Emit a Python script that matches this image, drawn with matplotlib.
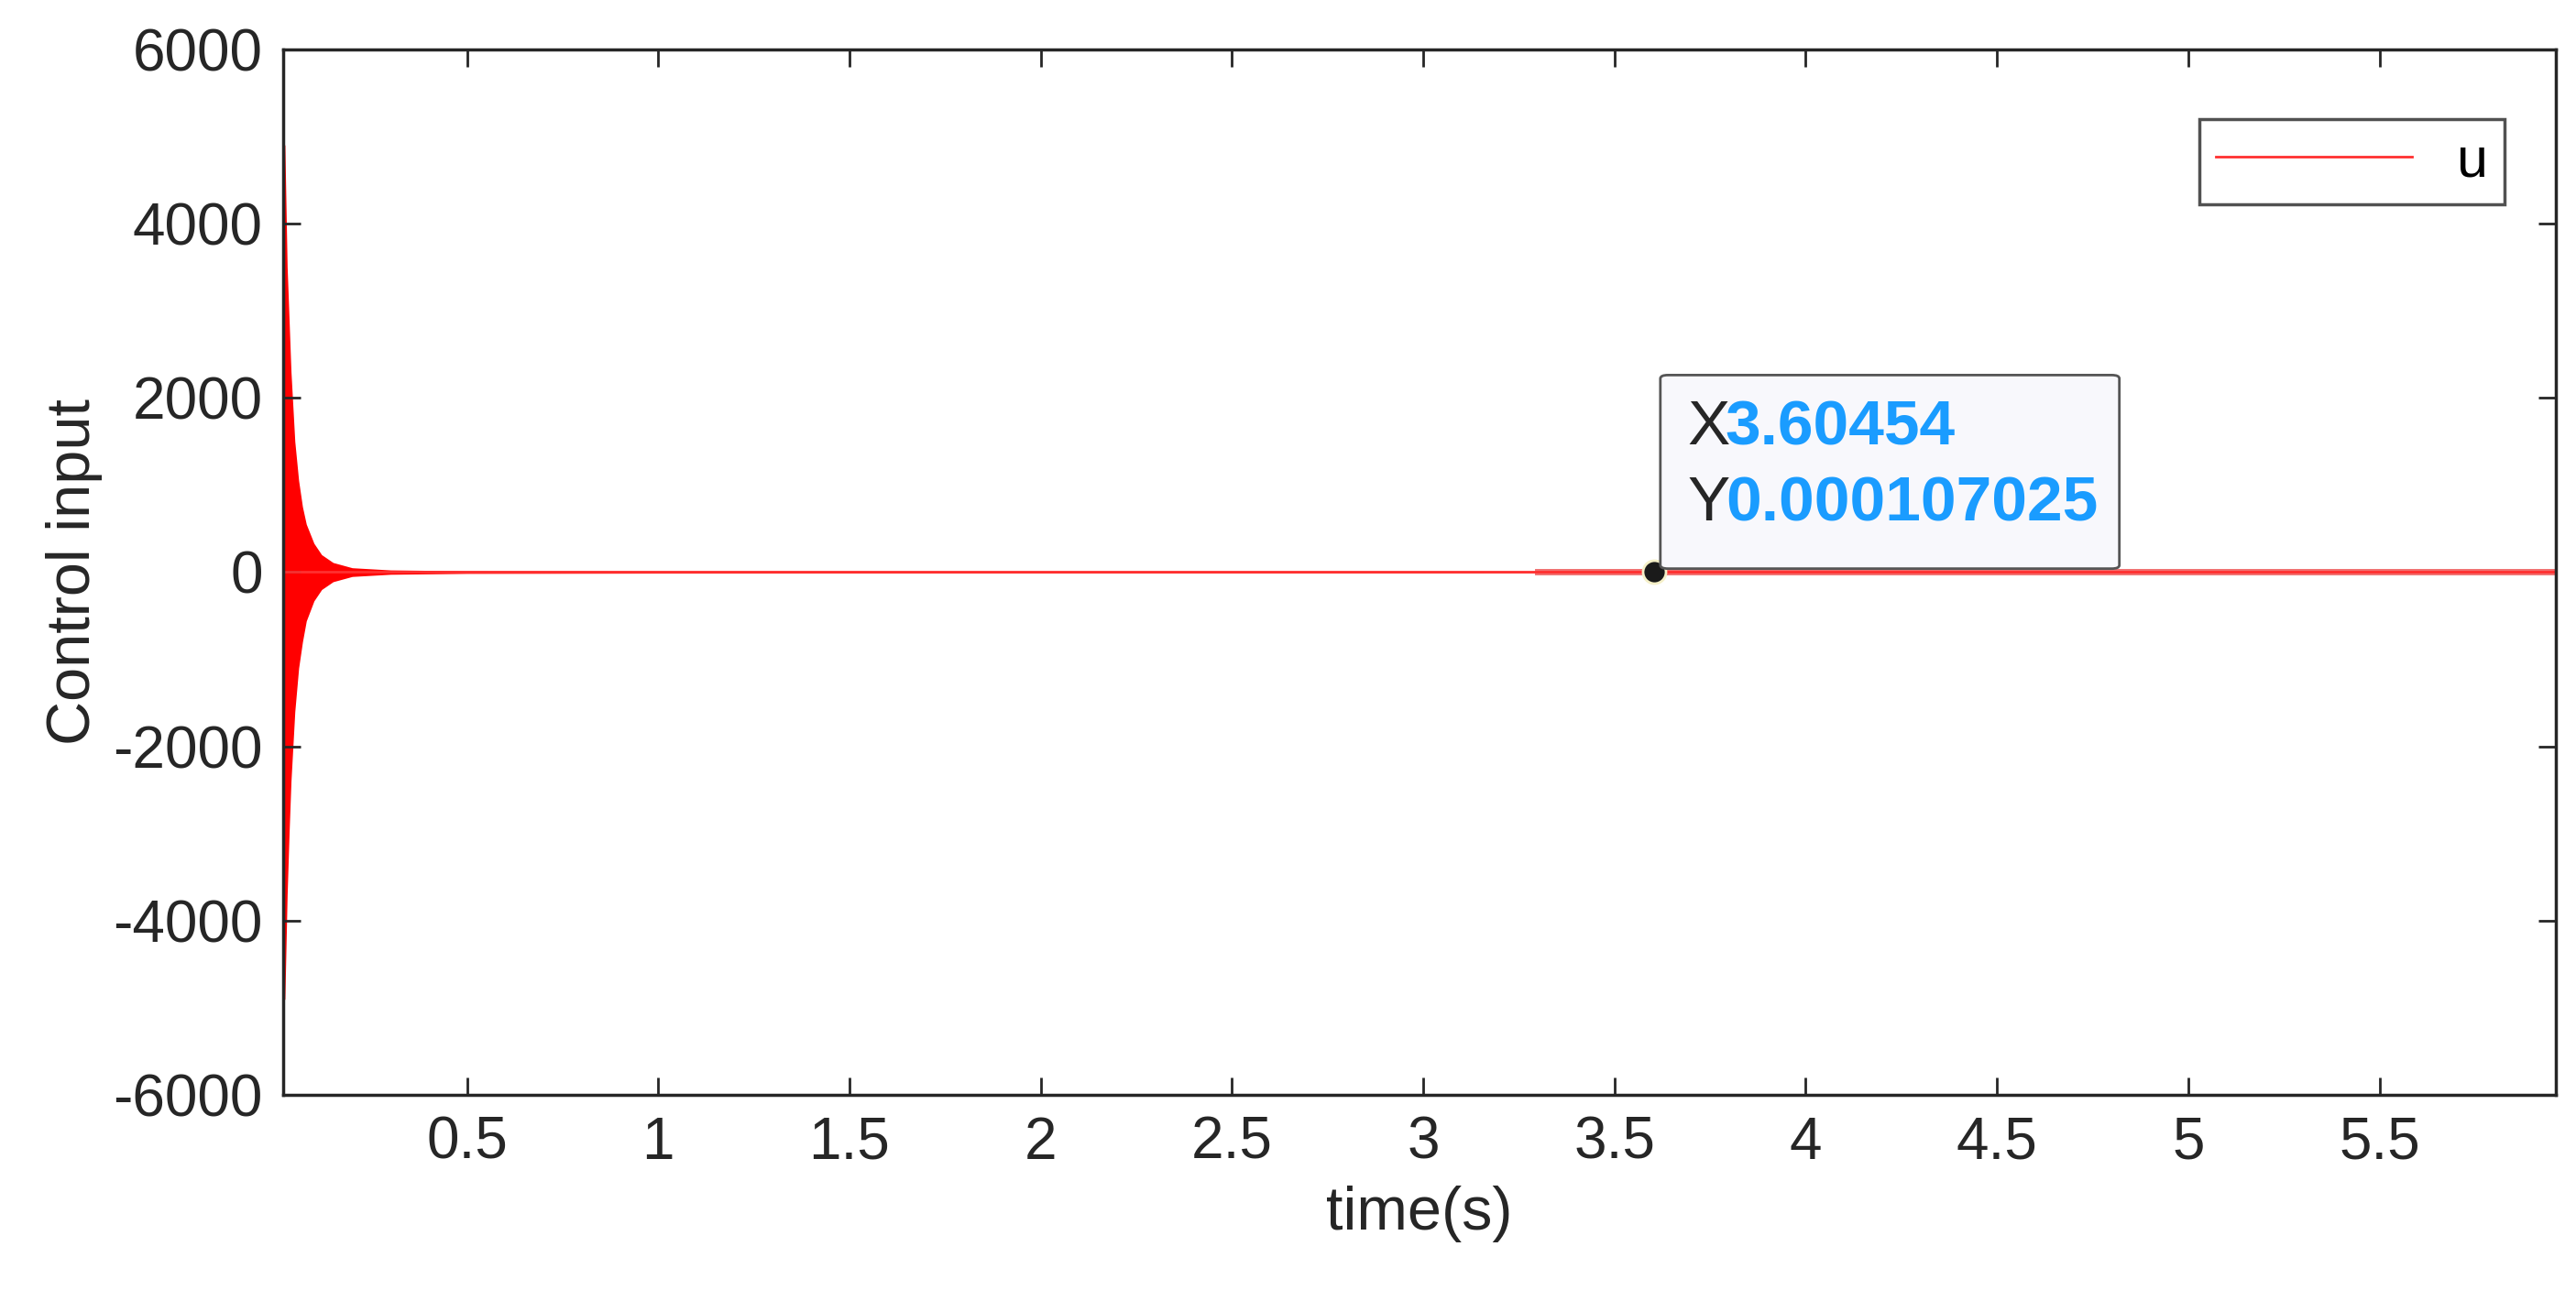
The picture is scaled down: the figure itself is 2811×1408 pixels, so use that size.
import numpy as np
import matplotlib.pyplot as plt
from matplotlib.patches import FancyBboxPatch

plt.rcParams['font.family'] = ['Liberation Sans', 'DejaVu Sans']
plt.rcParams['axes.unicode_minus'] = False

# envelope of u
env_t = [0.018, 0.024, 0.03, 0.035, 0.04, 0.05, 0.06, 0.07, 0.08, 0.1, 0.12, 0.15, 0.2, 0.3, 0.5, 1.0, 2.0, 3.0, 3.3, 5.96]
env_top = [4900, 4900, 3500, 2900, 2300, 1500, 1050, 750, 550, 330, 200, 110, 50, 25, 15, 12, 10, 8, 5, 5]
env_bot = [-4900, -4900, -3700, -3000, -2400, -1600, -1100, -800, -560, -330, -200, -110, -50, -25, -15, -12, -10, -8, -5, -5]
tip_x = 3.60454
tip_y = 0.000107025

fig = plt.figure(figsize=(28.11, 14.08), dpi=100)
ax = fig.add_axes([0.110, 0.151, 0.882, 0.811])

ax.fill_between(env_t, env_bot, env_top, color='#ff0000', lw=0)
ax.plot([3.3, 5.96], [0, 0], color='#f07070', lw=5)
ax.plot(env_t, [0] * len(env_t), color='#ff3030', lw=2, label='u')
ax.plot(tip_x, tip_y, 'o', ms=18, mfc='#1a1a1a', mec='#f5f0c8', mew=2, zorder=5)

ax.set_xlim(0.02, 5.96)
ax.set_ylim(-6000, 6000)
ax.set_xticks([0.5, 1, 1.5, 2, 2.5, 3, 3.5, 4, 4.5, 5, 5.5])
ax.set_xticklabels(['0.5', '1', '1.5', '2', '2.5', '3', '3.5', '4', '4.5', '5', '5.5'])
ax.set_yticks(range(-6000, 6001, 2000))
ax.tick_params(labelsize=46, direction='in', length=14, width=2, colors='#262626', pad=16,
               top=True, right=True)
for s in ax.spines.values():
    s.set_linewidth(2.5)
    s.set_color('#262626')
ax.set_xlabel('time(s)', fontsize=48, color='#262626', labelpad=12)
ax.set_ylabel('Control input', fontsize=48, color='#262626', labelpad=8)

leg = ax.legend(loc='upper right', fontsize=44, handlelength=3.5, fancybox=False,
                edgecolor='#262626', borderpad=0.3, bbox_to_anchor=(0.99, 0.96))
leg.get_frame().set_linewidth(2.5)

# datatip
box = FancyBboxPatch((3.62, 40), 1.2, 2220, boxstyle='round,pad=0,rounding_size=0.02',
                     transform=ax.transData, fc='#f8f8fc', ec='#555555', lw=2, zorder=6,
                     mutation_aspect=2000)
ax.add_patch(box)
ax.text(3.69, 1650, 'X', fontsize=50, color='#262626', va='center', zorder=7)
ax.text(3.69, 780, 'Y', fontsize=50, color='#262626', va='center', zorder=7)
ax.text(3.79, 1650, '%.5f' % tip_x, fontsize=50, color='#1a9cff', fontweight='bold', va='center', zorder=7)
ax.text(3.79, 780, '%.9f' % tip_y, fontsize=50, color='#1a9cff', fontweight='bold', va='center', zorder=7)

fig.savefig('out.png', dpi=100, facecolor='white')
